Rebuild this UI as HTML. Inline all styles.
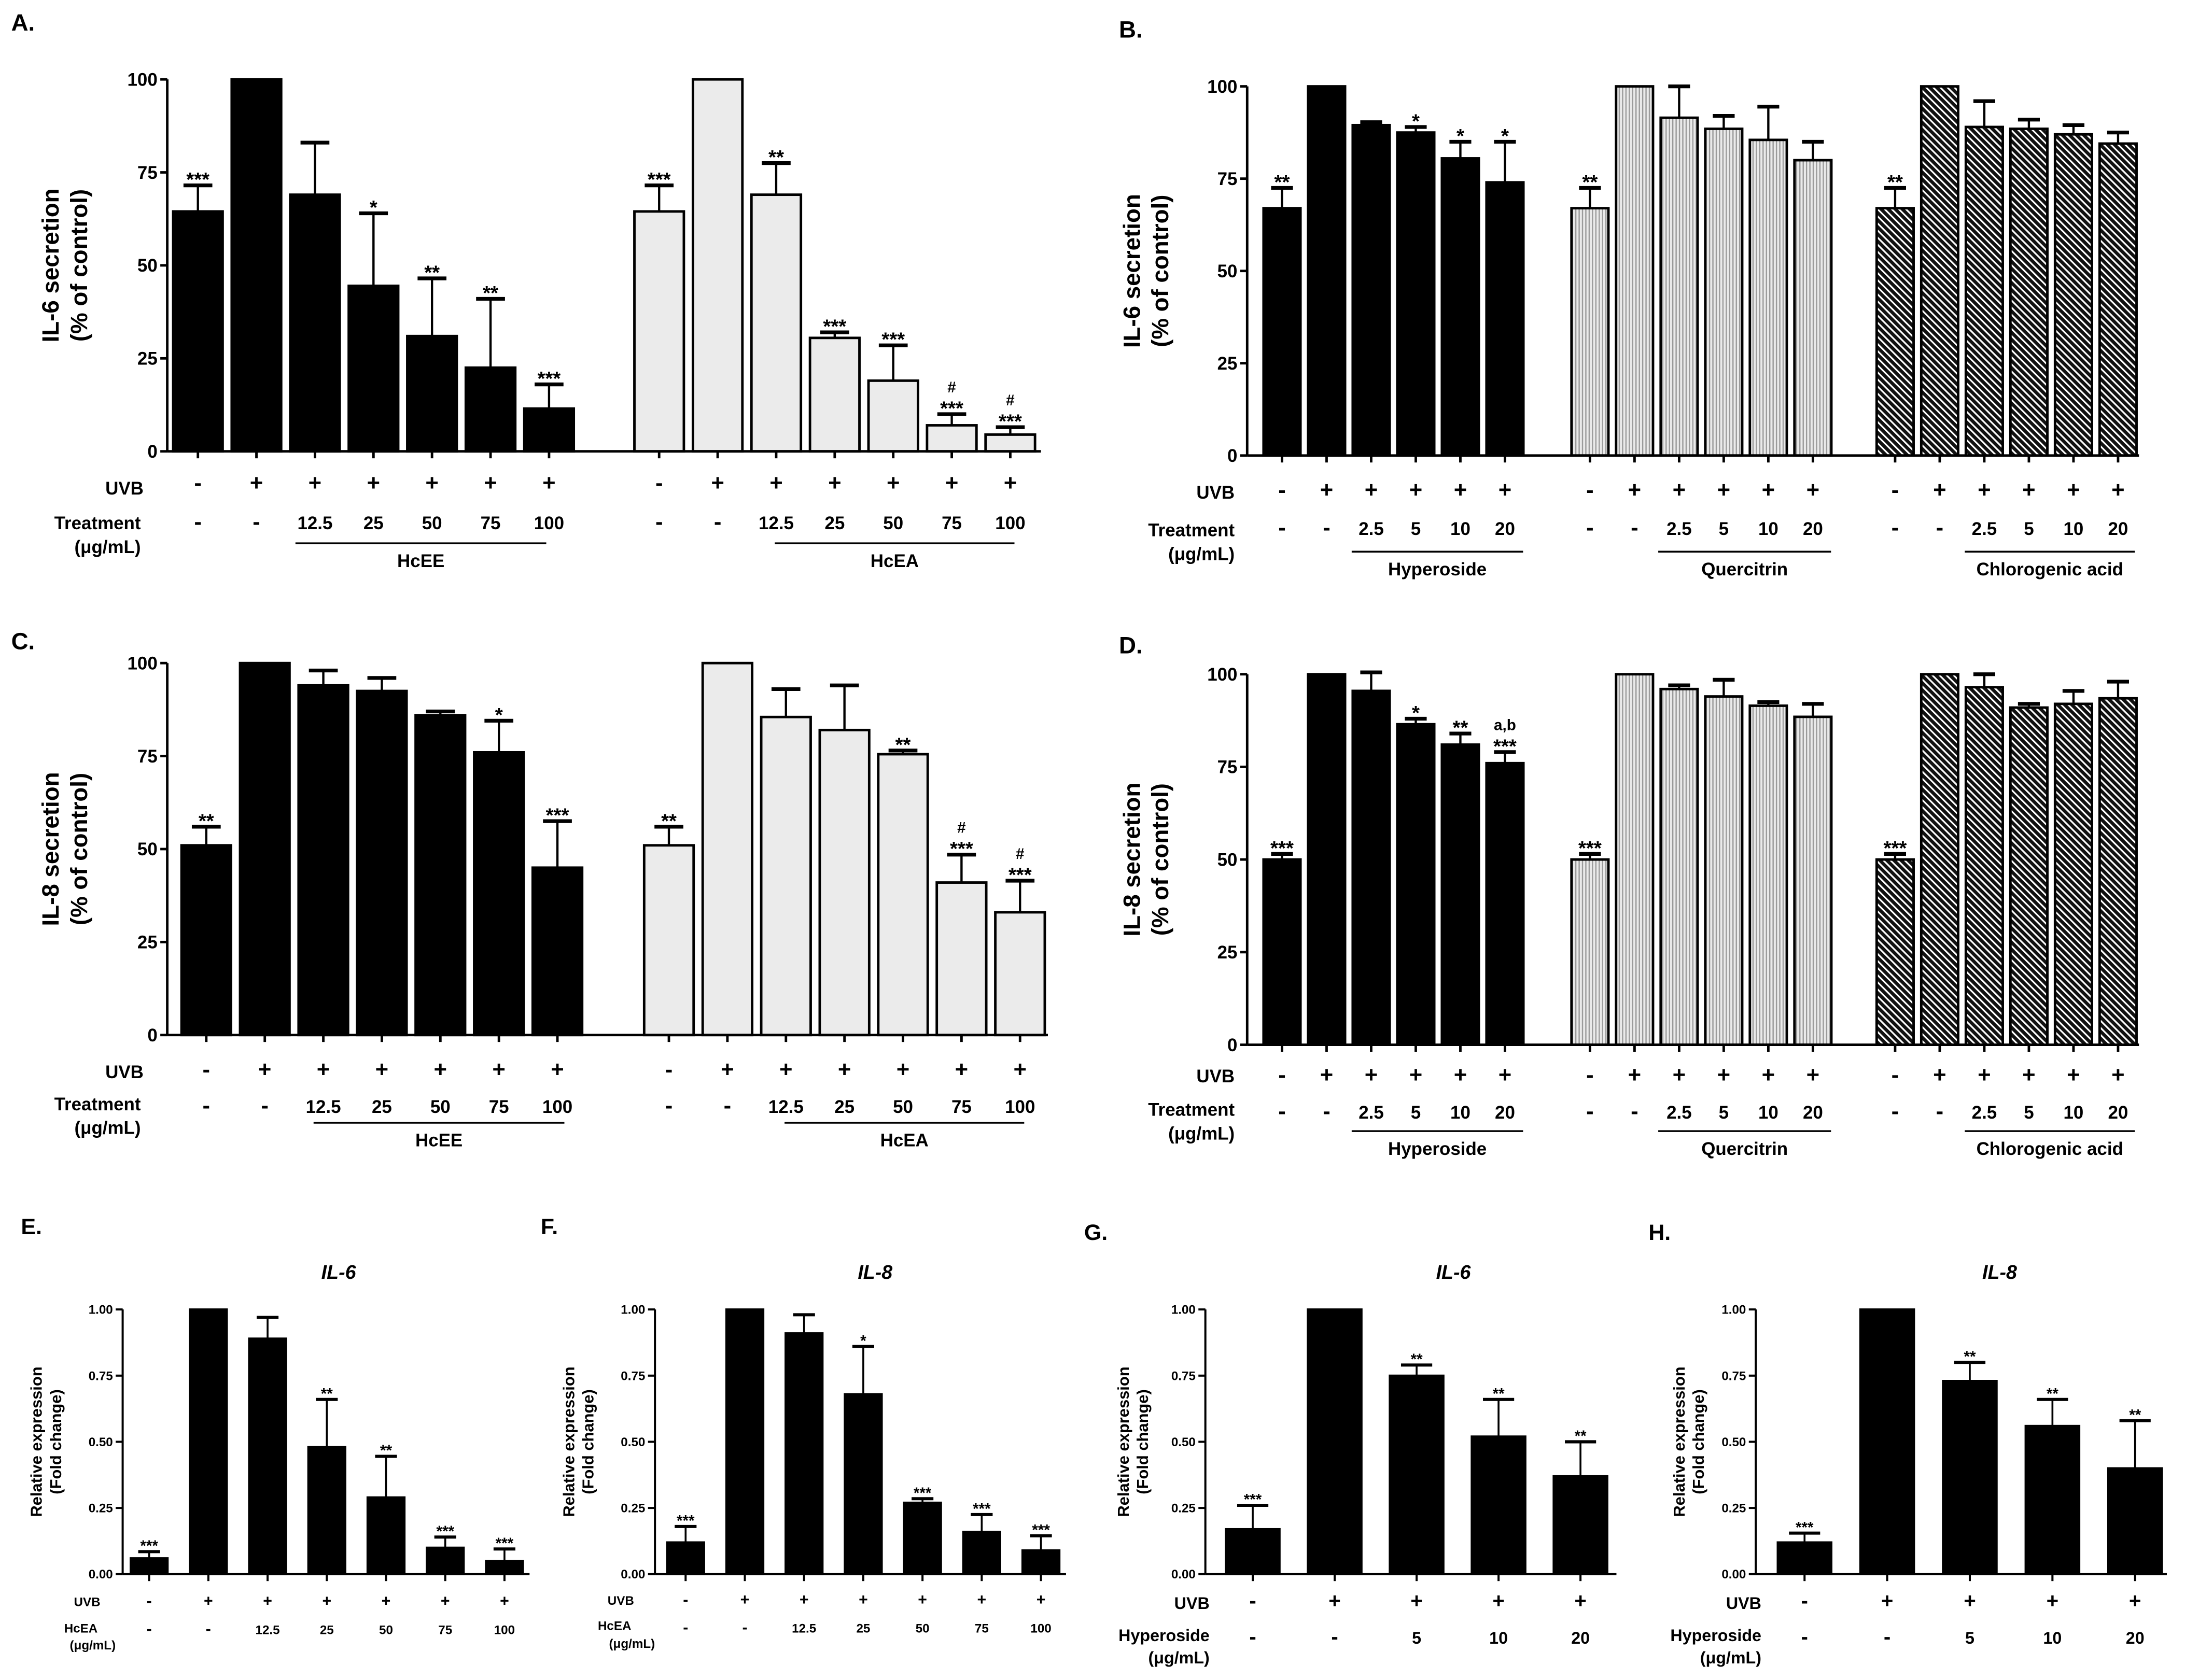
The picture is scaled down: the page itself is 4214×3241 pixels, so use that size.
<!DOCTYPE html>
<html><head><meta charset="utf-8"><style>
html,body{margin:0;padding:0;background:#fff}
svg{display:block}
text{font-family:"Liberation Sans",Arial,sans-serif;font-weight:bold;fill:#000}
</style></head><body>
<svg id="fig" width="4214" height="3241" viewBox="0 0 1568 1206" xmlns="http://www.w3.org/2000/svg">
<defs>
<pattern id="vstripe" width="2.4" height="10" patternUnits="userSpaceOnUse"><rect width="2.4" height="10" fill="#eaeaea"/><rect width="0.9" height="10" fill="#9a9a9a"/></pattern>
<pattern id="diag" width="3.6" height="3.6" patternUnits="userSpaceOnUse" patternTransform="rotate(-45)"><rect width="3.6" height="3.6" fill="#111"/><rect width="1.2" height="3.6" fill="#fff"/></pattern>
</defs>
</svg>
<script>
// ---- data ----
const aHcEE=[64.5,100,69,44.5,31,22.5,11.5];
const aHcEEErr=[7,0,14,19.5,15.5,18.5,6.5];
const aHcEESig=["***","","","*","**","**","***"];
const aHcEA=[64.5,100,69,30.5,19,7,4.5];
const aHcEAErr=[7,0,8.5,1.5,9.5,3,2];
const aHcEASig=["***","","**","***","***","#\n***","#\n***"];
const bHyp=[67,100,89.5,87.5,80.5,74];
const bHypErr=[5.5,0,0.8,1.5,4.5,11];
const bHypSig=["**","","","*","*","*"];
const bQue=[67,100,91.5,88.5,85.5,80];
const bQueErr=[5.5,0,8.5,3.5,9,5];
const bQueSig=["**","","","","",""];
const bChl=[67,100,89,88.5,87,84.5];
const bChlErr=[5.5,0,7,2.5,2.5,3];
const bChlSig=["**","","","","",""];
const cHcEE=[51,100,94,92.5,86,76,45];
const cHcEEErr=[5,0,4,3.5,1,8.5,12.5];
const cHcEESig=["**","","","","","*","***"];
const cHcEA=[51,100,85.5,82,75.5,41,33];
const cHcEAErr=[5,0,7.5,12,1,7.5,8.5];
const cHcEASig=["**","","","","**","#\n***","#\n***"];
const dHyp=[50,100,95.5,86.5,81,76];
const dHypErr=[1.5,0,5,1.5,3,3];
const dHypSig=["***","","","*","**","a,b\n***"];
const dQue=[50,100,96,94,91.5,88.5];
const dQueErr=[1.5,0,1,4.5,1,3.5];
const dQueSig=["***","","","","",""];
const dChl=[50,100,96.5,91,92,93.5];
const dChlErr=[1.5,0,3.5,1,3.5,4.5];
const dChlSig=["***","","","","",""];
const eVals=[0.06,1,0.89,0.48,0.29,0.1,0.05];
const eErr=[0.025,0,0.08,0.18,0.155,0.04,0.045];
const eSig=["***","","","**","**","***","***"];
const fVals=[0.12,1,0.91,0.68,0.27,0.16,0.09];
const fErr=[0.06,0,0.07,0.18,0.015,0.065,0.055];
const fSig=["***","","","*","***","***","***"];
const gVals=[0.17,1,0.75,0.52,0.37];
const gErr=[0.09,0,0.04,0.14,0.13];
const gSig=["***","","**","**","**"];
const hVals=[0.12,1,0.73,0.56,0.40];
const hErr=[0.035,0,0.07,0.1,0.18];
const hSig=["***","","**","**","**"];
const ticksPct=["0","25","50","75","100"];
const ticksFold=["0.00","0.25","0.50","0.75","1.00"];
const uvb7=["-","+","+","+","+","+","+"];
const trt7=["-","-","12.5","25","50","75","100"];
const uvb6=["-","+","+","+","+","+"];
const trt6=["-","-","2.5","5","10","20"];
const uvb5=["-","+","+","+","+"];
const trt5=["-","-","5","10","20"];

const svg=document.getElementById('fig');
const NS='http://www.w3.org/2000/svg';
function el(tag,attrs,parent){const e=document.createElementNS(NS,tag);for(const k in attrs)e.setAttribute(k,attrs[k]);(parent||svg).appendChild(e);return e;}
function txt(x,y,s,size,parent,anchor,extra){const t=el('text',Object.assign({x:x,y:y,'font-size':size,'text-anchor':anchor||'middle'},extra||{}),parent);t.textContent=s;return t;}

function panel(p){
  const g=el('g',{});
  
  
  const yS=v=>p.y0-(v/p.max)*(p.y0-p.yTop);
  const L=txt(p.lx,p.ly,p.letter,p.letterSize||17,g,'start');
  
  
  p.ticks.forEach((t,i)=>{
    const v=p.max*i/(p.ticks.length-1);const y=yS(v);
    el('line',{x1:p.ax-5,y1:y,x2:p.ax,y2:y,stroke:'#000','stroke-width':p.lw},g);
    const tl=txt(p.ax-7,y+p.tickSize*0.35,t,p.tickSize,g,'end');
    
    
  });
  const yt=el('text',{transform:`translate(${p.titleX},${(p.y0+p.yTop)/2}) rotate(-90)`,'font-size':p.titleSize,'text-anchor':'middle'},g);
  
  
  p.yTitle.forEach((s,i)=>{const ts=el('tspan',{x:0,dy:i?p.titleSize*1.2:0},yt);ts.textContent=s;});
  if(p.chartTitle){const ct=txt(p.ctx,p.cty,p.chartTitle,p.ctSize,g,'middle',{'font-style':'italic'});
    
    }
  p.rowLabels.forEach(r=>{const rl=txt(r[0],r[1],r[2],r[3],g,'end');
    
    });
  p.groups.forEach(gr=>{
    const gg=el('g',{},g);
    
    
    gr.vals.forEach((v,i)=>{
      const cx=gr.start+i*gr.step;const y=yS(v);
      const bw=gr.w-1.5;
      const b=el('rect',{x:cx-bw/2,y:y,width:bw,height:p.y0-y,fill:gr.fill,stroke:'#000','stroke-width':p.lw},gg);
      
      
      el('line',{x1:cx,y1:p.y0,x2:cx,y2:p.y0+5,stroke:'#000','stroke-width':p.lw},gg);
      const e=gr.err[i];let top=y;
      if(e>0){top=yS(v+e);
        el('line',{x1:cx,y1:y,x2:cx,y2:top,stroke:'#000','stroke-width':p.lw*0.9},gg);
        el('line',{x1:cx-gr.w*0.28,y1:top,x2:cx+gr.w*0.28,y2:top,stroke:'#000','stroke-width':p.lw*1.5},gg);
      }
      const s=gr.sig[i];
      if(s){const lines=s.split('\n');lines.forEach((ln,k)=>{
        const isStar=ln.indexOf('*')>=0;
        const yy=top-4-(lines.length-1-k)*p.sigSize*0.9+(isStar?p.sigSize*0.35:0);
        const st=txt(cx,yy,ln,isStar?p.sigSize*1.1:p.sigSize*0.85,gg);
        
        });}
      gr.rows.forEach((arr,ri)=>{const rt=txt(cx,p.rowY[ri],arr[i],p.rowSize*(arr[i]==='+'||arr[i]==='-'?1.25:1),gg);
        
        });
    });
    if(gr.under){const u=gr.under;
      el('line',{x1:u[0],y1:u[2],x2:u[1],y2:u[2],stroke:'#000','stroke-width':1.3},gg);
      const ul=txt((u[0]+u[1])/2,u[2]+17,gr.label,p.rowSize,gg);
      
      }
  });
  const ya=el('line',{x1:p.ax,y1:p.y0,x2:p.ax,y2:p.yTop,stroke:'#000','stroke-width':p.lw},g);
  
  
  const xa=el('line',{x1:p.ax,y1:p.y0,x2:p.axEnd,y2:p.y0,stroke:'#000','stroke-width':p.lw},g);
  
  
}
const G='#ebebeb';
panel({name:'panel-a',letter:'A.',lx:8,ly:22,ax:120,axEnd:747,y0:324,yTop:57,max:100,ticks:ticksPct,tickSize:13,lw:1.8,
 titleX:42,titleSize:17,yTitle:['IL-6 secretion','(% of control)'],sigSize:13,rowSize:13,rowY:[352,380],
 rowLabels:[[103,355,'UVB',13],[101,380,'Treatment',13],[101,397,'(μg/mL)',13]],
 groups:[{label:'HcEE',vals:aHcEE,err:aHcEEErr,sig:aHcEESig,fill:'#000',start:142,step:42,w:37,rows:[uvb7,trt7],under:[212,392,390]},
  {label:'HcEA',vals:aHcEA,err:aHcEAErr,sig:aHcEASig,fill:G,start:473,step:42,w:37,rows:[uvb7,trt7],under:[556,728,390]}]});
panel({name:'panel-b',letter:'B.',lx:803,ly:27,ax:895,axEnd:1535,y0:327,yTop:62,max:100,ticks:ticksPct,tickSize:13,lw:1.8,
 titleX:818,titleSize:17,yTitle:['IL-6 secretion','(% of control)'],sigSize:13,rowSize:13,rowY:[357,384],
 rowLabels:[[886,358,'UVB',13],[886,385,'Treatment',13],[886,402,'(μg/mL)',13]],
 groups:[{label:'Hyperoside',vals:bHyp,err:bHypErr,sig:bHypSig,fill:'#000',start:920,step:32,w:28,rows:[uvb6,trt6],under:[970,1093,396]},
  {label:'Quercitrin',vals:bQue,err:bQueErr,sig:bQueSig,fill:'url(#vstripe)',start:1141,step:32,w:28,rows:[uvb6,trt6],under:[1190,1314,396]},
  {label:'Chlorogenic acid',vals:bChl,err:bChlErr,sig:bChlSig,fill:'url(#diag)',start:1360,step:32,w:28,rows:[uvb6,trt6],under:[1410,1532,396]}]});
panel({name:'panel-c',letter:'C.',lx:8,ly:466,ax:120,axEnd:752,y0:743,yTop:476,max:100,ticks:ticksPct,tickSize:13,lw:1.8,
 titleX:42,titleSize:17,yTitle:['IL-8 secretion','(% of control)'],sigSize:13,rowSize:13,rowY:[773,799],
 rowLabels:[[103,774,'UVB',13],[101,797,'Treatment',13],[101,814,'(μg/mL)',13]],
 groups:[{label:'HcEE',vals:cHcEE,err:cHcEEErr,sig:cHcEESig,fill:'#000',start:148,step:42,w:37,rows:[uvb7,trt7],under:[225,405,806]},
  {label:'HcEA',vals:cHcEA,err:cHcEAErr,sig:cHcEASig,fill:G,start:480,step:42,w:37,rows:[uvb7,trt7],under:[563,735,806]}]});
panel({name:'panel-d',letter:'D.',lx:803,ly:469,ax:895,axEnd:1535,y0:750,yTop:484,max:100,ticks:ticksPct,tickSize:13,lw:1.8,
 titleX:818,titleSize:17,yTitle:['IL-8 secretion','(% of control)'],sigSize:13,rowSize:13,rowY:[777,803],
 rowLabels:[[886,777,'UVB',13],[886,801,'Treatment',13],[886,818,'(μg/mL)',13]],
 groups:[{label:'Hyperoside',vals:dHyp,err:dHypErr,sig:dHypSig,fill:'#000',start:920,step:32,w:28,rows:[uvb6,trt6],under:[970,1093,812]},
  {label:'Quercitrin',vals:dQue,err:dQueErr,sig:dQueSig,fill:'url(#vstripe)',start:1141,step:32,w:28,rows:[uvb6,trt6],under:[1190,1314,812]},
  {label:'Chlorogenic acid',vals:dChl,err:dChlErr,sig:dChlSig,fill:'url(#diag)',start:1360,step:32,w:28,rows:[uvb6,trt6],under:[1410,1532,812]}]});
panel({name:'panel-e',letter:'E.',lx:15,ly:886,letterSize:16,ax:88,axEnd:380,y0:1130,yTop:940,max:1,ticks:ticksFold,tickSize:9,lw:1.5,
 titleX:30,titleSize:11.5,yTitle:['Relative expression','(Fold change)'],chartTitle:'IL-6',ctx:243,cty:918,ctSize:14,sigSize:10,rowSize:9,rowY:[1153,1173],
 rowLabels:[[72,1153,'UVB',9],[70,1172,'HcEA',9],[83,1184,'(μg/mL)',9]],
 groups:[{label:'e',vals:eVals,err:eErr,sig:eSig,fill:'#000',start:107,step:42.5,w:28,rows:[uvb7,trt7]}]});
panel({name:'panel-f',letter:'F.',lx:388,ly:886,letterSize:16,ax:470,axEnd:765,y0:1130,yTop:940,max:1,ticks:ticksFold,tickSize:9,lw:1.5,
 titleX:412,titleSize:11.5,yTitle:['Relative expression','(Fold change)'],chartTitle:'IL-8',ctx:628,cty:918,ctSize:14,sigSize:10,rowSize:9,rowY:[1152,1172],
 rowLabels:[[455,1152,'UVB',9],[453,1170,'HcEA',9],[470,1183,'(μg/mL)',9]],
 groups:[{label:'f',vals:fVals,err:fErr,sig:fSig,fill:'#000',start:492,step:42.5,w:28,rows:[uvb7,trt7]}]});
panel({name:'panel-g',letter:'G.',lx:778,ly:890,letterSize:16,ax:865,axEnd:1160,y0:1130,yTop:940,max:1,ticks:ticksFold,tickSize:9,lw:1.5,
 titleX:810,titleSize:11.5,yTitle:['Relative expression','(Fold change)'],chartTitle:'IL-6',ctx:1043,cty:918,ctSize:14,sigSize:10,rowSize:12,rowY:[1154,1180],
 rowLabels:[[868,1155,'UVB',12],[868,1178,'Hyperoside',12],[868,1194,'(μg/mL)',12]],
 groups:[{label:'g',vals:gVals,err:gErr,sig:gSig,fill:'#000',start:899,step:58.8,w:40,rows:[uvb5,trt5]}]});
panel({name:'panel-h',letter:'H.',lx:1183,ly:890,letterSize:16,ax:1260,axEnd:1555,y0:1130,yTop:940,max:1,ticks:ticksFold,tickSize:9,lw:1.5,
 titleX:1209,titleSize:11.5,yTitle:['Relative expression','(Fold change)'],chartTitle:'IL-8',ctx:1435,cty:918,ctSize:14,sigSize:10,rowSize:12,rowY:[1154,1180],
 rowLabels:[[1264,1155,'UVB',12],[1264,1178,'Hyperoside',12],[1264,1194,'(μg/mL)',12]],
 groups:[{label:'h',vals:hVals,err:hErr,sig:hSig,fill:'#000',start:1295,step:59.3,w:40,rows:[uvb5,trt5]}]});
</script>
</body></html>
